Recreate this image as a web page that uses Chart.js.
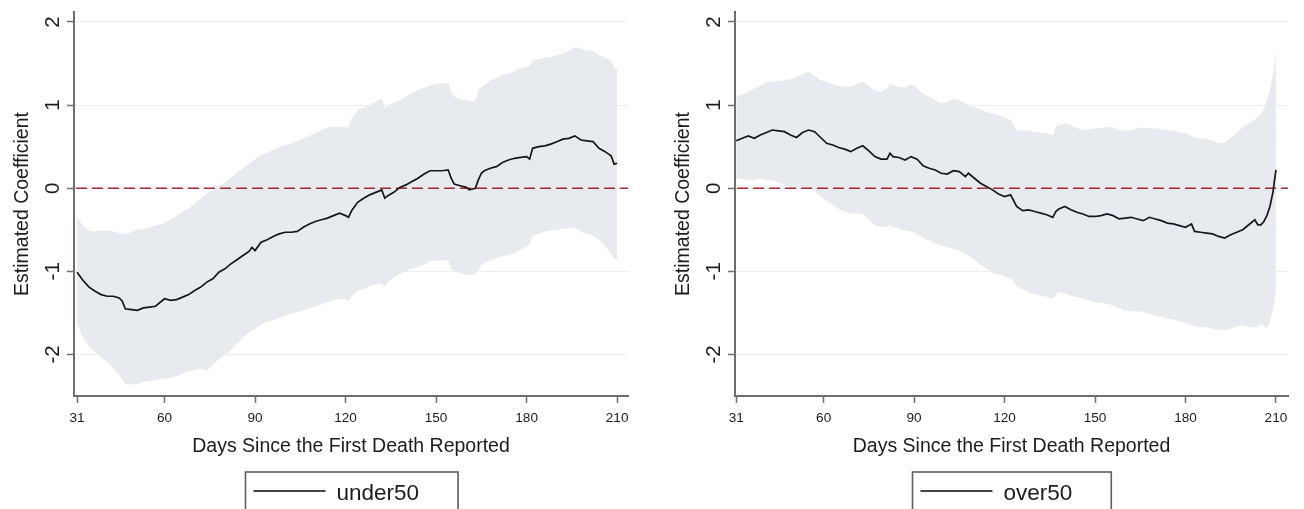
<!DOCTYPE html>
<html><head><meta charset="utf-8">
<script src="https://cdn.jsdelivr.net/npm/chart.js@4.4.1/dist/chart.umd.min.js"></script>
<style>
html,body{margin:0;padding:0;background:#fff;}
#wrap{position:relative;width:1304px;height:509px;overflow:hidden;background:#fff;}
canvas{position:absolute;top:0;}
</style></head><body>
<div id="wrap">
<canvas id="c1" width="652" height="509" style="left:0px"></canvas>
<canvas id="c2" width="652" height="509" style="left:652px"></canvas>
</div>
<script>
const xTicks = [31, 60, 90, 120, 150, 180, 210];
const yTicks = [-2, -1, 0, 1, 2];
const zeroLine = 0;
const xTitle = 'Days Since the First Death Reported';
const yTitle = 'Estimated Coefficient';
const labelUnder = 'under50';
const labelOver = 'over50';

const daysUnder = [31,33,35,37,39,41,43,45,46,47,
  49,51,53,55,57,60,62,64,66,68,
  70,72,74,76,78,80,82,84,86,88,
  89,90,92,94,96,98,100,102,104,106,
  108,110,112,114,116,118,120,121,122,124,
  126,128,130,132,133,134,136,138,140,142,
  144,146,148,150,152,154,155,156,158,160,
  161,162,163,164,165,166,168,170,172,174,
  176,178,180,181,182,184,186,188,190,192,
  194,196,198,200,202,204,206,208,209,210];
const estUnder = [-1.01,-1.11,-1.19,-1.24,-1.28,-1.30,-1.30,-1.32,-1.36,-1.45,
  -1.46,-1.47,-1.44,-1.43,-1.42,-1.33,-1.35,-1.34,-1.31,-1.28,
  -1.23,-1.19,-1.13,-1.09,-1.01,-0.97,-0.91,-0.86,-0.81,-0.76,
  -0.71,-0.75,-0.65,-0.62,-0.58,-0.55,-0.53,-0.53,-0.52,-0.47,
  -0.43,-0.40,-0.38,-0.36,-0.33,-0.30,-0.33,-0.35,-0.27,-0.17,
  -0.12,-0.08,-0.05,-0.02,-0.12,-0.09,-0.05,0.01,0.04,0.08,
  0.12,0.17,0.21,0.21,0.21,0.22,0.12,0.05,0.03,0.01,
  -0.02,-0.01,0.00,0.10,0.18,0.21,0.24,0.26,0.31,0.34,
  0.36,0.37,0.38,0.35,0.48,0.50,0.51,0.53,0.56,0.59,
  0.60,0.63,0.58,0.57,0.56,0.48,0.44,0.39,0.29,0.30];
const upperUnder = [-0.35,-0.45,-0.51,-0.52,-0.51,-0.51,-0.52,-0.54,-0.55,-0.55,
  -0.53,-0.50,-0.49,-0.47,-0.45,-0.42,-0.38,-0.33,-0.28,-0.24,
  -0.19,-0.12,-0.06,-0.02,0.03,0.07,0.13,0.19,0.24,0.29,
  0.32,0.35,0.40,0.43,0.46,0.49,0.52,0.54,0.57,0.60,
  0.63,0.66,0.70,0.73,0.74,0.74,0.73,0.74,0.84,0.94,
  0.97,1.00,1.04,1.08,0.96,0.99,1.03,1.06,1.10,1.15,
  1.18,1.21,1.24,1.25,1.26,1.27,1.15,1.10,1.07,1.06,
  1.05,1.04,1.06,1.18,1.22,1.24,1.30,1.33,1.36,1.38,
  1.41,1.44,1.46,1.47,1.54,1.55,1.57,1.58,1.60,1.62,
  1.65,1.70,1.68,1.66,1.65,1.60,1.57,1.53,1.45,1.42];
const lowerUnder = [-1.63,-1.80,-1.90,-1.97,-2.04,-2.09,-2.16,-2.25,-2.30,-2.36,
  -2.36,-2.36,-2.33,-2.32,-2.31,-2.29,-2.28,-2.26,-2.23,-2.20,
  -2.18,-2.17,-2.20,-2.12,-2.06,-2.00,-1.95,-1.87,-1.80,-1.74,
  -1.71,-1.69,-1.64,-1.61,-1.59,-1.56,-1.53,-1.51,-1.49,-1.47,
  -1.45,-1.42,-1.40,-1.37,-1.35,-1.33,-1.33,-1.36,-1.30,-1.24,
  -1.21,-1.18,-1.16,-1.15,-1.19,-1.13,-1.07,-1.03,-1.00,-0.97,
  -0.95,-0.92,-0.88,-0.87,-0.87,-0.87,-0.97,-1.00,-1.02,-1.04,
  -1.05,-1.05,-1.03,-0.98,-0.92,-0.90,-0.87,-0.84,-0.82,-0.80,
  -0.78,-0.74,-0.70,-0.67,-0.57,-0.55,-0.52,-0.51,-0.50,-0.49,
  -0.48,-0.47,-0.52,-0.55,-0.57,-0.62,-0.69,-0.79,-0.85,-0.87];

const daysOver = [31,33,35,37,39,41,43,45,47,49,
  51,53,55,57,59,61,63,65,67,69,
  71,73,75,77,79,81,82,83,85,87,
  89,91,93,95,97,99,101,103,105,107,
  108,110,112,114,116,118,120,122,124,126,
  128,130,132,134,136,137,138,140,142,144,
  146,148,150,152,154,156,158,160,162,164,
  166,168,170,172,174,176,178,180,182,183,
  185,187,189,191,193,195,197,199,201,203,
  204,205,206,207,208,209,210];
const estOver = [0.57,0.60,0.63,0.60,0.64,0.67,0.70,0.69,0.68,0.64,
  0.61,0.67,0.70,0.68,0.61,0.54,0.52,0.49,0.47,0.44,
  0.48,0.51,0.45,0.38,0.35,0.35,0.42,0.38,0.37,0.34,
  0.38,0.35,0.27,0.24,0.22,0.18,0.17,0.21,0.20,0.14,
  0.18,0.12,0.06,0.02,-0.02,-0.07,-0.10,-0.08,-0.22,-0.27,
  -0.26,-0.28,-0.30,-0.32,-0.35,-0.28,-0.25,-0.22,-0.26,-0.29,
  -0.31,-0.34,-0.34,-0.33,-0.31,-0.33,-0.37,-0.36,-0.35,-0.37,
  -0.39,-0.35,-0.37,-0.39,-0.42,-0.43,-0.45,-0.47,-0.43,-0.52,
  -0.53,-0.54,-0.55,-0.58,-0.60,-0.56,-0.53,-0.50,-0.44,-0.38,
  -0.44,-0.44,-0.40,-0.33,-0.22,-0.05,0.22];
const upperOver = [1.10,1.13,1.16,1.20,1.24,1.28,1.28,1.29,1.30,1.31,
  1.34,1.37,1.40,1.35,1.30,1.28,1.25,1.23,1.22,1.22,
  1.25,1.28,1.23,1.18,1.16,1.20,1.26,1.24,1.22,1.21,
  1.25,1.20,1.14,1.10,1.06,1.02,1.04,1.07,1.06,1.02,
  1.00,0.98,0.95,0.92,0.90,0.88,0.85,0.82,0.70,0.69,
  0.69,0.68,0.67,0.66,0.64,0.74,0.76,0.78,0.76,0.72,
  0.70,0.71,0.72,0.72,0.74,0.73,0.70,0.69,0.70,0.72,
  0.73,0.72,0.72,0.71,0.70,0.69,0.67,0.66,0.63,0.61,
  0.60,0.59,0.57,0.54,0.55,0.61,0.67,0.73,0.78,0.83,
  0.86,0.88,0.96,1.05,1.18,1.38,1.66];
const lowerOver = [0.12,0.11,0.10,0.10,0.11,0.10,0.09,0.07,0.05,0.01,
  -0.02,-0.01,0.00,-0.03,-0.10,-0.15,-0.20,-0.25,-0.28,-0.30,
  -0.30,-0.31,-0.38,-0.45,-0.46,-0.47,-0.45,-0.47,-0.49,-0.51,
  -0.52,-0.55,-0.60,-0.63,-0.66,-0.69,-0.71,-0.73,-0.75,-0.79,
  -0.81,-0.86,-0.92,-0.97,-1.02,-1.04,-1.06,-1.08,-1.18,-1.22,
  -1.25,-1.27,-1.29,-1.31,-1.33,-1.28,-1.25,-1.27,-1.29,-1.31,
  -1.33,-1.35,-1.37,-1.38,-1.39,-1.41,-1.44,-1.47,-1.48,-1.48,
  -1.49,-1.51,-1.53,-1.55,-1.57,-1.58,-1.60,-1.62,-1.65,-1.66,
  -1.67,-1.68,-1.69,-1.71,-1.71,-1.69,-1.66,-1.65,-1.67,-1.68,
  -1.66,-1.63,-1.66,-1.68,-1.60,-1.47,-1.27];

const FONT = '"Liberation Sans", Arial, Helvetica, sans-serif';
const TEXT = '#1c1c1c';
const AXIS = '#6e6e6e';

function pts(days, vals) { return days.map((d, i) => ({ x: d, y: vals[i] })); }

const textPlugin = {
  id: 'stataText',
  beforeDatasetDraw(chart, args) {
    if (args.index !== 0) return;
    const ca = chart.chartArea, ys = chart.scales.y, ctx = chart.ctx;
    const y = ys.getPixelForValue(zeroLine);
    ctx.save();
    ctx.strokeStyle = '#a8282e';
    ctx.lineWidth = 1.6;
    ctx.setLineDash([11, 5]);
    ctx.beginPath();
    ctx.moveTo(ca.left + 2, y);
    ctx.lineTo(ca.right, y);
    ctx.stroke();
    ctx.restore();
  },
  afterDraw(chart) {
    const o = chart.options.plugins.stataText;
    const ca = chart.chartArea, xs = chart.scales.x, ys = chart.scales.y, ctx = chart.ctx;
    ctx.save();
    ctx.fillStyle = TEXT;
    // x tick labels
    ctx.font = '13.6px ' + FONT;
    ctx.textAlign = 'center';
    ctx.textBaseline = 'alphabetic';
    xTicks.forEach(t => ctx.fillText(String(t), xs.getPixelForValue(t), ca.bottom + 26));
    // y tick labels (rotated)
    ctx.font = '20.5px ' + FONT;
    yTicks.forEach(t => {
      ctx.save();
      ctx.translate(ca.left - 15, ys.getPixelForValue(t));
      ctx.rotate(-Math.PI / 2);
      ctx.textAlign = 'center';
      ctx.fillText(String(t), 0, 0);
      ctx.restore();
    });
    // y title
    ctx.font = '19.5px ' + FONT;
    ctx.save();
    ctx.translate(ca.left - 46, (ca.top + ca.bottom) / 2);
    ctx.rotate(-Math.PI / 2);
    ctx.textAlign = 'center';
    ctx.fillText(yTitle, 0, 0);
    ctx.restore();
    // x title
    ctx.textAlign = 'center';
    ctx.fillText(xTitle, (ca.left + ca.right) / 2, ca.bottom + 56);
    // legend
    ctx.font = '22.5px ' + FONT;
    const tw = ctx.measureText(o.label).width;
    const bw = 130 + tw;
    const bx = Math.round((ca.left + ca.right) / 2 - bw / 2) + 0.5;
    ctx.strokeStyle = '#5e5e5e';
    ctx.lineWidth = 1.6;
    ctx.strokeRect(bx, 472, bw, 60);
    ctx.strokeStyle = '#454545';
    ctx.lineWidth = 2;
    ctx.beginPath();
    ctx.moveTo(bx + 8, 491);
    ctx.lineTo(bx + 80, 491);
    ctx.stroke();
    ctx.textAlign = 'left';
    ctx.fillText(o.label, bx + 91, 500);
    ctx.restore();
  }
};

function makeChart(id, days, est, up, lo, label, padL, padR, xmin, xmax) {
  return new Chart(document.getElementById(id), {
    type: 'line',
    data: {
      datasets: [
        { data: pts(days, est), borderColor: '#161616', borderWidth: 1.7, pointRadius: 0, fill: false, tension: 0 },
        { data: pts(days, up), borderWidth: 0, borderColor: 'rgba(0,0,0,0)', backgroundColor: '#e7ebef', pointRadius: 0, fill: '+1', tension: 0 },
        { data: pts(days, lo), borderWidth: 0, borderColor: 'rgba(0,0,0,0)', backgroundColor: '#e7ebef', pointRadius: 0, fill: false, tension: 0 }
      ]
    },
    options: {
      responsive: false,
      animation: false,
      devicePixelRatio: 1,
      layout: { padding: { left: padL, right: padR, top: 12, bottom: 105 } },
      plugins: { legend: { display: false }, tooltip: { enabled: false }, stataText: { label: label } },
      scales: {
        x: {
          type: 'linear', min: xmin, max: xmax,
          afterBuildTicks: s => { s.ticks = xTicks.map(v => ({ value: v })); },
          afterFit: s => { s.height = 8; },
          ticks: { display: false },
          grid: { display: true, drawOnChartArea: false, drawTicks: true, tickLength: 7, tickColor: AXIS, tickWidth: 1.5 },
          border: { display: true, color: AXIS, width: 2 }
        },
        y: {
          type: 'linear', min: -2.5, max: 2.12,
          afterBuildTicks: s => { s.ticks = yTicks.map(v => ({ value: v })); },
          afterFit: s => { s.width = 8; },
          ticks: { display: false },
          grid: { display: true, drawOnChartArea: true, color: '#e8f0f1', lineWidth: 1, drawTicks: true, tickLength: 7, tickColor: AXIS, tickWidth: 1.5 },
          border: { display: true, color: AXIS, width: 2 }
        }
      }
    },
    plugins: [textPlugin]
  });
}

makeChart('c1', daysUnder, estUnder, upperUnder, lowerUnder, labelUnder, 66, 24, 30, 213.6);
makeChart('c2', daysOver, estOver, upperOver, lowerOver, labelOver, 75, 16, 30.6, 214);
</script>
</body></html>
